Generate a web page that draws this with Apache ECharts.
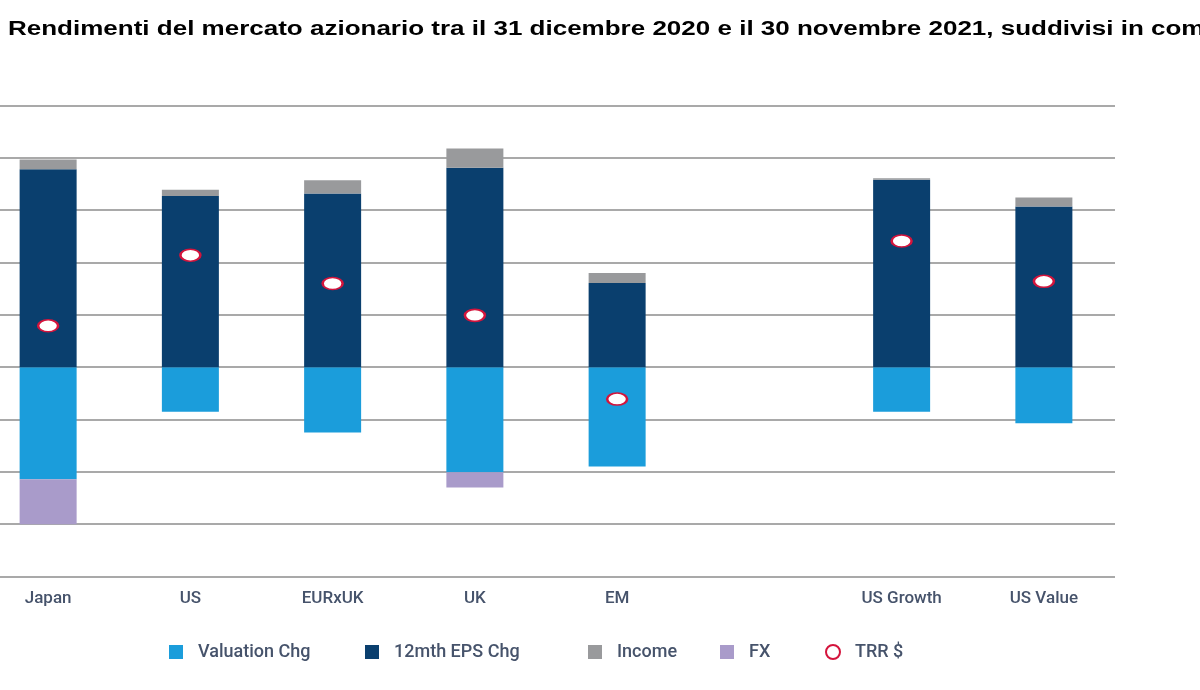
<!DOCTYPE html>
<html>
<head>
<meta charset="utf-8">
<script src="https://cdn.jsdelivr.net/npm/echarts@6/dist/echarts.min.js"></script>
<style>
html,body{margin:0;padding:0;background:#fff;overflow:hidden;width:1200px;height:690px;}
#chart{position:absolute;left:-23px;top:0;width:1223px;height:690px;}
</style>
</head>
<body>
<div id="chart"></div>
<script>
const titleText = 'Rendimenti del mercato azionario tra il 31 dicembre 2020 e il 30 novembre 2021, suddivisi in componenti';
const categories = ['Japan', 'US', 'EURxUK', 'UK', 'EM', '', 'US Growth', 'US Value'];
const valuationChg = [-21.4, -8.5, -12.5, -20.1, -19.0, '-', -8.5, -10.7];
const epsChg = [37.8, 32.7, 33.2, 38.1, 16.1, '-', 35.8, 30.7];
const income = [1.9, 1.2, 2.5, 3.7, 1.9, '-', 0.3, 1.7];
const fx = [-8.6, '-', '-', -2.9, '-', '-', '-', '-'];
const trr = [7.9, 21.4, 16.0, 9.9, -6.1, '-', 24.1, 16.4];
const yTicks = {min: -40, max: 50, interval: 10};
const legendNames = ['Valuation Chg', '12mth EPS Chg', 'Income', 'FX', 'TRR $'];

const labelFont = 'Roboto, "Noto Sans", sans-serif';
const textColor = '#46536b';
const chart = echarts.init(document.getElementById('chart'));
const barW = 57;
const legendLefts = [187, 383, 606, 738, 843];
const legends = legendNames.map((n, i) => ({
  left: legendLefts[i], top: 638,
  itemWidth: 14, itemHeight: 14,
  textStyle: {fontFamily: labelFont, fontSize: 18, fontWeight: 500, color: textColor, padding: [0, 0, 0, 10]},
  data: [i === 4
    ? {name: n, icon: 'circle', itemStyle: {color: '#ffffff', borderColor: '#d4143c', borderWidth: 2}}
    : {name: n, icon: 'rect'}]
}));
chart.setOption({
  animation: false,
  backgroundColor: '#ffffff',
  graphic: [{
    type: 'text',
    x: 31, y: 19,
    scaleX: 1.3,
    style: {
      text: titleText,
      font: 'bold 20px "Liberation Sans", Arial, sans-serif',
      fill: '#000000'
    }
  }],
  legend: legends,
  grid: {left: 0, right: 85, top: 105.5, bottom: 113.5, containLabel: false},
  xAxis: {
    type: 'category',
    data: categories,
    axisLine: {show: false},
    axisTick: {show: false},
    axisLabel: {fontFamily: labelFont, fontSize: 17, fontWeight: 500, color: textColor, margin: 14}
  },
  yAxis: {
    type: 'value',
    min: yTicks.min, max: yTicks.max, interval: yTicks.interval,
    axisLabel: {show: false},
    axisLine: {show: false},
    axisTick: {show: false},
    splitLine: {lineStyle: {color: '#a9a9a9', width: 2}}
  },
  series: [
    {name: 'Valuation Chg', type: 'bar', stack: 'a', barWidth: barW, data: valuationChg, itemStyle: {color: '#1b9ddb'}},
    {name: '12mth EPS Chg', type: 'bar', stack: 'a', barWidth: barW, data: epsChg, itemStyle: {color: '#0a3f6e'}},
    {name: 'Income', type: 'bar', stack: 'a', barWidth: barW, data: income, itemStyle: {color: '#999a9c'}},
    {name: 'FX', type: 'bar', stack: 'a', barWidth: barW, data: fx, itemStyle: {color: '#a99bca'}},
    {name: 'TRR $', type: 'scatter', data: trr, symbol: 'circle', symbolSize: [20, 12], z: 5,
     itemStyle: {color: '#ffffff', borderColor: '#d4143c', borderWidth: 2, opacity: 1}}
  ]
});
</script>
</body>
</html>
